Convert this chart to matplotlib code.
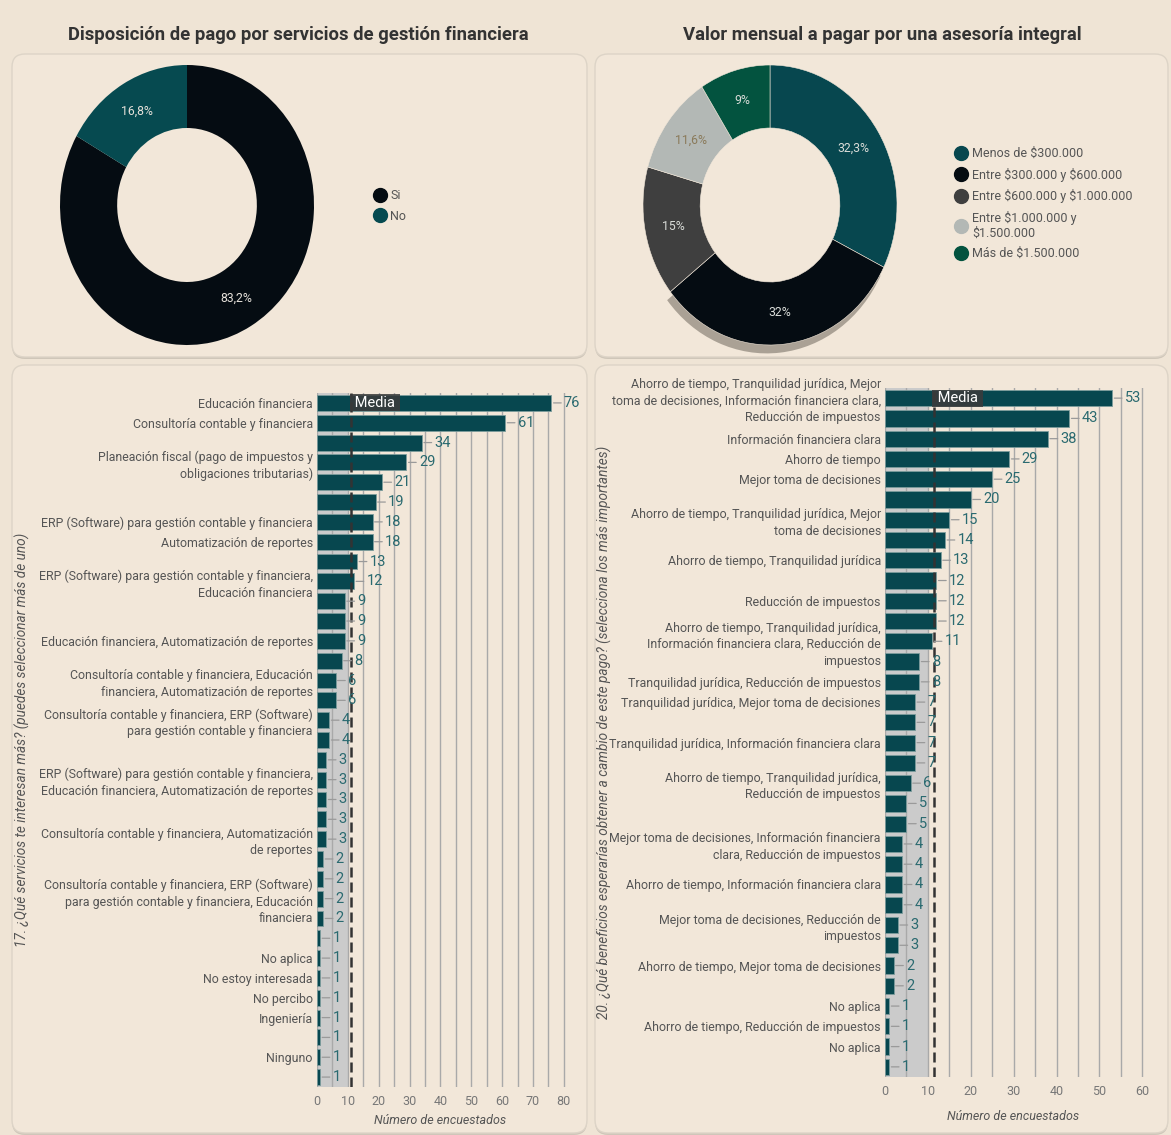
import numpy as np
import matplotlib
matplotlib.use("Agg")
import matplotlib.pyplot as plt
from matplotlib.patches import FancyBboxPatch, Wedge
from matplotlib.lines import Line2D

plt.rcParams["font.family"] = ["Roboto", "DejaVu Sans"]

# =====================================================
# DATA
# =====================================================

pay_labels = ["Si", "No"]
pay_values = [83.2, 16.8]

fee_labels = [
    "Menos de $300.000",
    "Entre $300.000 y $600.000",
    "Entre $600.000 y $1.000.000",
    "Entre $1.000.000 y\n$1.500.000",
    "Más de $1.500.000",
]
fee_values = [32.3, 32.0, 15.0, 11.6, 9.0]

services_labels = [
    "Educación financiera",
    "Consultoría contable y financiera",
    "",
    "Planeación fiscal (pago de impuestos y\nobligaciones tributarias)",
    "",
    "",
    "ERP (Software) para gestión contable y financiera",
    "Automatización de reportes",
    "",
    "ERP (Software) para gestión contable y financiera,\nEducación financiera",
    "",
    "",
    "Educación financiera, Automatización de reportes",
    "",
    "Consultoría contable y financiera, Educación\nfinanciera, Automatización de reportes",
    "",
    "Consultoría contable y financiera, ERP (Software)\npara gestión contable y financiera",
    "",
    "",
    "ERP (Software) para gestión contable y financiera,\nEducación financiera, Automatización de reportes",
    "",
    "",
    "Consultoría contable y financiera, Automatización\nde reportes",
    "",
    "",
    "Consultoría contable y financiera, ERP (Software)\npara gestión contable y financiera, Educación\nfinanciera",
    "",
    "",
    "No aplica",
    "No estoy interesada",
    "No percibo",
    "Ingeniería",
    "",
    "Ninguno",
    "",
]
services_values = [76, 61, 34, 29, 21, 19, 18, 18, 13, 12, 9, 9, 9, 8, 6, 6, 4, 4,
                   3, 3, 3, 3, 3, 2, 2, 2, 2, 1, 1, 1, 1, 1, 1, 1, 1]

benefits_labels = [
    "Ahorro de tiempo, Tranquilidad jurídica, Mejor\ntoma de decisiones, Información financiera clara,\nReducción de impuestos",
    "",
    "Información financiera clara",
    "Ahorro de tiempo",
    "Mejor toma de decisiones",
    "",
    "Ahorro de tiempo, Tranquilidad jurídica, Mejor\ntoma de decisiones",
    "",
    "Ahorro de tiempo, Tranquilidad jurídica",
    "",
    "Reducción de impuestos",
    "",
    "Ahorro de tiempo, Tranquilidad jurídica,\nInformación financiera clara, Reducción de\nimpuestos",
    "",
    "Tranquilidad jurídica, Reducción de impuestos",
    "Tranquilidad jurídica, Mejor toma de decisiones",
    "",
    "Tranquilidad jurídica, Información financiera clara",
    "",
    "Ahorro de tiempo, Tranquilidad jurídica,\nReducción de impuestos",
    "",
    "",
    "Mejor toma de decisiones, Información financiera\nclara, Reducción de impuestos",
    "",
    "Ahorro de tiempo, Información financiera clara",
    "",
    "Mejor toma de decisiones, Reducción de\nimpuestos",
    "",
    "Ahorro de tiempo, Mejor toma de decisiones",
    "",
    "No aplica",
    "Ahorro de tiempo, Reducción de impuestos",
    "No aplica",
    "",
]
benefits_values = [53, 43, 38, 29, 25, 20, 15, 14, 13, 12, 12, 12, 11, 8, 8, 7, 7, 7, 7,
                   6, 5, 5, 4, 4, 4, 4, 3, 3, 2, 2, 1, 1, 1, 1]

# =====================================================
# STYLE
# =====================================================

W, H = 1171, 1135
BG = "#efe4d5"
PANEL = "#f2e7d9"
TEAL = "#07474f"
TEXT = "#555555"


def box(x0, y0, x1, y1):
    return [x0 / W, 1 - y1 / H, (x1 - x0) / W, (y1 - y0) / H]


fig = plt.figure(figsize=(W / 100, H / 100), dpi=100)
fig.patch.set_facecolor(BG)


def panel(x0, y0, x1, y1):
    for dx, dy, fc, ec in [(0, 2, "#cfc6b9", "none"), (0, 0, PANEL, "#ddd4c7")]:
        p = FancyBboxPatch(
            ((x0 + dx) / 100, (H - y1 - dy) / 100),
            (x1 - x0) / 100, (y1 - y0) / 100,
            boxstyle="round,pad=0,rounding_size=0.13",
            transform=fig.dpi_scale_trans,
            facecolor=fc, edgecolor=ec, linewidth=1.0, zorder=-10,
        )
        fig.add_artist(p)


panel(12, 54, 587, 357)
panel(595, 54, 1168, 357)
panel(12, 365, 587, 1133)
panel(595, 365, 1168, 1133)

fig.text(298 / W, 1 - 35 / H, "Disposición de pago por servicios de gestión financiera",
         ha="center", va="center", fontsize=13.3, fontweight="bold", color="#333333")
fig.text(882 / W, 1 - 35 / H, "Valor mensual a pagar por una asesoría integral",
         ha="center", va="center", fontsize=13.3, fontweight="bold", color="#333333")

# =====================================================
# DONUT 1
# =====================================================

ax1 = fig.add_axes(box(187 - 127, 205 - 140, 187 + 127, 205 + 140))
pay_colors = ["#050c12", "#064a50"]
wedges, _ = ax1.pie(pay_values, colors=pay_colors, startangle=90, counterclock=False,
                    radius=1.0, wedgeprops=dict(width=0.45, linewidth=0))
ax1.set_aspect("auto")
ax1.set_xlim(-1, 1)
ax1.set_ylim(-1, 1)
for w, v in zip(wedges, pay_values):
    ang = np.deg2rad((w.theta1 + w.theta2) / 2)
    ax1.text(0.775 * np.cos(ang), 0.775 * np.sin(ang), f"{v:g}%".replace(".", ","),
             ha="center", va="center", fontsize=8.8, color="#e6e1da")

handles = [Line2D([], [], marker="o", linestyle="", markersize=10, color=c) for c in pay_colors]
fig.legend(handles, pay_labels, loc="upper left", bbox_to_anchor=(366 / W, 1 - 183 / H),
           frameon=False, fontsize=9, labelcolor=TEXT, handletextpad=0.25,
           labelspacing=0.6, borderpad=0, handlelength=1.2)

# =====================================================
# DONUT 2
# =====================================================

ax2 = fig.add_axes(box(770 - 127, 205 - 140, 770 + 127, 205 + 140))
fee_colors = ["#07474f", "#050c12", "#3f3f3f", "#b3b8b5", "#03533f"]
wedges, _ = ax2.pie(fee_values, colors=fee_colors, startangle=90, counterclock=False,
                    radius=1.0, wedgeprops=dict(width=0.45, linewidth=0.4, edgecolor=PANEL))
ax2.set_aspect("auto")
ax2.set_xlim(-1, 1)
ax2.set_ylim(-1, 1)
sh = wedges[1]
ax2.add_patch(Wedge((-0.025, -0.06), 1.0, sh.theta1, sh.theta2, width=0.45,
                    facecolor="#aaa195", edgecolor="none", zorder=0.5, clip_on=False))
pct_colors = ["#d9dcd8", "#d9dcd8", "#d9dcd8", "#8a7a5a", "#d9dcd8"]
for w, v, tc in zip(wedges, fee_values, pct_colors):
    ang = np.deg2rad((w.theta1 + w.theta2) / 2)
    ax2.text(0.775 * np.cos(ang), 0.775 * np.sin(ang), f"{v:g}%".replace(".", ","),
             ha="center", va="center", fontsize=8.8, color=tc)

handles = [Line2D([], [], marker="o", linestyle="", markersize=10, color=c) for c in fee_colors]
fig.legend(handles, [l.replace("$", r"\$") for l in fee_labels], loc="upper left",
           bbox_to_anchor=(947 / W, 1 - 141 / H), frameon=False, fontsize=9,
           labelcolor=TEXT, handletextpad=0.3, labelspacing=0.6, borderpad=0,
           handlelength=1.2)

# =====================================================
# BAR CHARTS
# =====================================================


def bar_panel(rect, labels, values, xmax, xtop, ylabel, ylab_pos, xlab_pos):
    ax = fig.add_axes(rect)
    ax.set_facecolor("none")
    y = np.arange(len(values))
    mean = np.mean(values)

    ax.axvspan(0, 10, color="#cbcbcb", zorder=0.5, lw=0)
    ax.barh(y, values, height=0.8, color=TEAL, edgecolor="#7c9c9c",
            linewidth=0.6, zorder=3)
    ax.axvline(mean, color="#333333", linestyle=(0, (4, 2)), linewidth=1.8, zorder=4)
    ax.text(mean, 0, " Media ", ha="left", va="center", fontsize=10.5, color="white",
            zorder=5, bbox=dict(facecolor="#3b3b3b", alpha=0.85, edgecolor="none", pad=1.0))

    for yi, v in zip(y, values):
        ax.annotate(str(v), xy=(v, yi), xytext=(9, 0), textcoords="offset points",
                    ha="left", va="center", fontsize=10.5, color="#2a6a70", zorder=6,
                    annotation_clip=False,
                    arrowprops=dict(arrowstyle="-", color="#9a9a9a", lw=0.9,
                                    shrinkA=0, shrinkB=1.5))

    ax.set_xlim(0, xmax)
    ax.set_ylim(len(values) - 0.5, -0.5)
    ax.set_xticks(np.arange(0, xtop + 1, 10))
    ax.set_xticks(np.arange(0, xtop + 1, 5), minor=True)
    ax.grid(axis="x", which="both", color="#a9a9a9", linewidth=1.0, zorder=1)
    ax.set_axisbelow(True)
    ax.set_yticks(y)
    ax.set_yticklabels(labels, fontsize=8.9, color=TEXT, linespacing=1.35)
    ax.tick_params(axis="y", length=0, pad=3)
    ax.tick_params(axis="x", which="both", length=0, pad=6, labelsize=9, labelcolor="#777777")
    for s in ax.spines.values():
        s.set_visible(False)

    fig.text(ylab_pos[0] / W, 1 - ylab_pos[1] / H, ylabel, rotation=90, ha="center",
             va="center", fontsize=9.8, style="italic", color=TEXT)
    fig.text(xlab_pos[0] / W, 1 - xlab_pos[1] / H, "Número de encuestados", ha="center",
             va="center", fontsize=9, style="italic", color=TEXT)
    return ax


bar_panel(box(317, 393, 570, 1087), services_labels, services_values, 82, 80,
          "17. ¿Qué servicios te interesan más? (puedes seleccionar más de uno)",
          (22, 740), (440, 1121))

bar_panel(box(885, 388, 1150, 1077), benefits_labels, benefits_values, 61.8, 60,
          "20. ¿Qué beneficios esperarías obtener a cambio de este pago? (selecciona los más importantes)",
          (604, 732), (1013, 1117))

fig.savefig("out.png", dpi=100, facecolor=fig.get_facecolor())
